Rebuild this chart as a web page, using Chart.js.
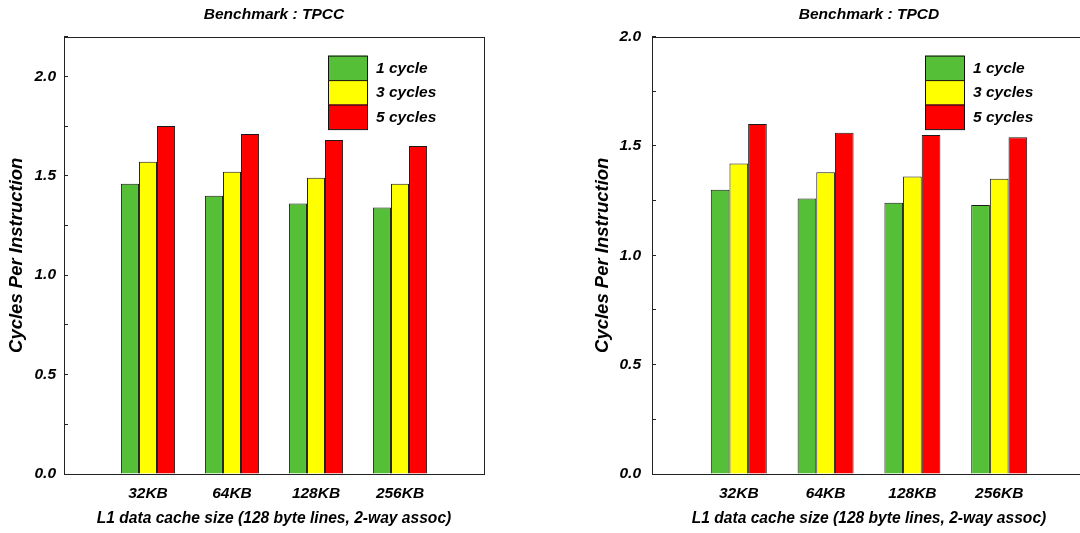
<!DOCTYPE html>
<html>
<head>
<meta charset="utf-8">
<script src="https://cdn.jsdelivr.net/npm/chart.js@4/dist/chart.umd.min.js"></script>
<style>
    html, body { margin: 0; padding: 0; background: #fff; overflow: hidden; width: 1080px; height: 533px; }
    canvas { position: absolute; top: 0; }
    #tpccChart { left: 0; }
    #tpcdChart { left: 580px; }
</style>
</head>
<body>
<canvas id="tpccChart" width="540" height="533"></canvas>
<canvas id="tpcdChart" width="520" height="533"></canvas>
<script>
const cacheSizes = ['32KB', '64KB', '128KB', '256KB'];
const seriesNames = ['1 cycle', '3 cycles', '5 cycles'];

const tpccOneCycle = [1.46, 1.40, 1.36, 1.34];
const tpccThreeCycles = [1.57, 1.52, 1.49, 1.46];
const tpccFiveCycles = [1.75, 1.71, 1.68, 1.65];

const tpcdOneCycle = [1.30, 1.26, 1.24, 1.23];
const tpcdThreeCycles = [1.42, 1.38, 1.36, 1.35];
const tpcdFiveCycles = [1.60, 1.56, 1.55, 1.54];

const colors = ['#55bf37', '#ffff00', '#ff0000'];
const font = 'Liberation Sans, Arial, sans-serif';

// frame round the plot + stacked legend inside it
const boxAndLegend = {
    id: 'boxAndLegend',
    afterDraw(chart, args, opts) {
        const { ctx, chartArea } = chart;
        ctx.save();
        ctx.strokeStyle = '#222';
        ctx.lineWidth = 1;
        ctx.strokeRect(Math.round(chartArea.left) + 0.5, Math.round(chartArea.top) + 0.5,
            Math.round(chartArea.right - chartArea.left), Math.round(chartArea.bottom - chartArea.top));

        const x = chartArea.left + opts.x;
        let y = chartArea.top + opts.y;
        ctx.font = 'italic bold 15.5px ' + font;
        ctx.textBaseline = 'middle';
        ctx.textAlign = 'left';
        chart.data.datasets.forEach(ds => {
            ctx.fillStyle = ds.backgroundColor;
            ctx.fillRect(x, y, 39, 24.5);
            ctx.strokeStyle = '#111';
            ctx.strokeRect(x + 0.5, y + 0.5, 39, 24.5);
            ctx.fillStyle = '#000';
            ctx.fillText(ds.label, x + 48, y + 13);
            y += 24.5;
        });
        ctx.restore();
    }
};

function makeChart(id, title, series, yMax, axisWidth, padRight, tickPad, titlePad, legendX) {
    const ctx = document.getElementById(id);
    new Chart(ctx, {
        type: 'bar',
        data: {
            labels: ['', ...cacheSizes, ''],
            datasets: series.map((vals, i) => ({
                label: seriesNames[i],
                data: cacheSizes.map((c, j) => ({ x: c, y: vals[j] })),
                backgroundColor: colors[i],
                borderColor: '#1a1a1a',
                borderWidth: 1,
                borderSkipped: 'bottom',
                inflateAmount: 0,
                barPercentage: 1,
                categoryPercentage: 0.645
            }))
        },
        options: {
            responsive: false,
            animation: false,
            layout: { padding: { left: 0, right: padRight, top: 0, bottom: 0 } },
            plugins: {
                legend: { display: false },
                tooltip: { enabled: false },
                title: {
                    display: true,
                    text: title,
                    fullSize: false,
                    color: '#000',
                    font: { family: font, size: 15.5, style: 'italic', weight: 'bold' },
                    padding: { top: 5, bottom: 13 }
                },
                boxAndLegend: { x: legendX, y: 19 }
            },
            scales: {
                x: {
                    offset: false,
                    border: { display: false },
                    grid: { display: false },
                    ticks: {
                        color: '#000',
                        padding: 2,
                        maxRotation: 0,
                        autoSkip: false,
                        font: { family: font, size: 15.5, style: 'italic', weight: 'bold' }
                    },
                    title: {
                        display: true,
                        text: 'L1 data cache size (128 byte lines, 2-way assoc)',
                        color: '#000',
                        font: { family: font, size: 15.6, style: 'italic', weight: 'bold' },
                        padding: { top: 0, bottom: 5 }
                    },
                    afterFit: s => { s.height = 59; }
                },
                y: {
                    min: 0,
                    max: yMax,
                    border: { display: false },
                    grid: {
                        drawOnChartArea: false,
                        drawTicks: true,
                        tickLength: -4,
                        color: '#222'
                    },
                    ticks: {
                        stepSize: 0.25,
                        color: '#000',
                        padding: tickPad,
                        autoSkip: false,
                        font: { family: font, size: 15.5, style: 'italic', weight: 'bold' },
                        callback: v => (Math.abs(v % 0.5) < 1e-9 ? v.toFixed(1) : '')
                    },
                    title: {
                        display: true,
                        text: 'Cycles Per Instruction',
                        color: '#000',
                        font: { family: font, size: 18.5, style: 'italic', weight: 'bold' },
                        padding: { top: titlePad, bottom: 0 }
                    },
                    afterFit: s => { s.width = axisWidth; }
                }
            }
        },
        plugins: [boxAndLegend]
    });
}

document.addEventListener('DOMContentLoaded', () => {
    makeChart('tpccChart', 'Benchmark : TPCC',
        [tpccOneCycle, tpccThreeCycles, tpccFiveCycles], 2.2, 64, 56, 12, 6, 264);
    makeChart('tpcdChart', 'Benchmark : TPCD',
        [tpcdOneCycle, tpcdThreeCycles, tpcdFiveCycles], 2.0, 72, 14, 15, 12, 273);
});
</script>
</body>
</html>
